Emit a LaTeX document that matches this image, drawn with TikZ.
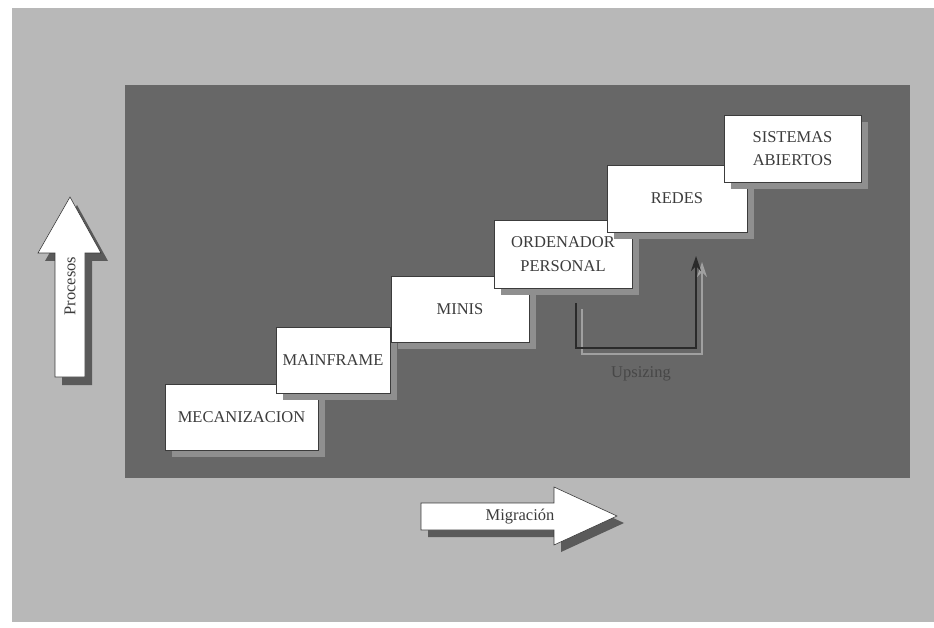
\documentclass[tikz,border=0pt]{standalone}
\usepackage{fontspec}
\setmainfont{Liberation Serif}
\usetikzlibrary{shadows,arrows.meta}

\definecolor{paper}{HTML}{B8B8B8}
\definecolor{panel}{HTML}{676767}
\definecolor{boxshadow}{HTML}{8F8F8F}
\definecolor{inkgray}{HTML}{3C3C3C}
\definecolor{arrowshadow}{HTML}{5A5A5A}
\definecolor{lineshadow}{HTML}{A0A0A0}
\definecolor{linedark}{HTML}{2A2A2A}

\begin{document}
\begin{tikzpicture}[x=1pt,y=-1pt,
  stage/.style={draw=inkgray, line width=0.6pt, fill=white, text=inkgray,
    font=\fontsize{16.5}{23.5}\selectfont, align=center, inner sep=0pt,
    drop shadow={shadow xshift=7pt, shadow yshift=-7pt, fill=boxshadow, opacity=1}},
  bigarrow/.style={draw=inkgray, line width=0.6pt, fill=white},
  bigshadow/.style={fill=arrowshadow},
  arrowtext/.style={text=inkgray, font=\fontsize{16.5}{18}\selectfont, inner sep=0pt},
  steppath/.style={draw=linedark, line width=1.8pt, -{Stealth[length=15pt,width=10pt]}},
  steppathshadow/.style={draw=lineshadow, line width=1.8pt, -{Stealth[length=15pt,width=10pt]}}
]
\useasboundingbox (0,0) rectangle (934,628);

% page and dark panel
\fill[white] (0,0) rectangle (934,628);
\fill[paper] (12,8) rectangle (934,622);
\fill[panel] (125,85) rectangle (910,478);

% staircase of stages
\node[stage, minimum width=153pt, minimum height=66pt] (mec) at (241.5,417) {MECANIZACION};
\node[stage, minimum width=114pt, minimum height=66pt] (main) at (333,360) {MAINFRAME};
\node[stage, minimum width=138pt, minimum height=66pt] (minis) at (460,309) {MINIS};
\node[stage, minimum width=138pt, minimum height=68pt] (pc) at (563,254) {ORDENADOR\\PERSONAL};
\node[stage, minimum width=140pt, minimum height=67pt] (redes) at (677,198.5) {REDES};
\node[stage, minimum width=137pt, minimum height=67pt] (open) at (792.5,148.5) {SISTEMAS\\ABIERTOS};

% upsizing connector, with a light offset copy beneath it
\coordinate (up-from) at (576,303);
\coordinate (up-low1) at (576,348);
\coordinate (up-low2) at (696,348);
\coordinate (up-to) at (696,256);
\begin{scope}[transform canvas={xshift=6pt, yshift=-6pt}]
  \draw[steppathshadow] (up-from) -- (up-low1) -- (up-low2) -- (up-to);
\end{scope}
\draw[steppath] (up-from) -- (up-low1) -- (up-low2) -- (up-to);
\node[text=black!72, font=\fontsize{16.5}{18}\selectfont, inner sep=0pt] (upsizing) at (641,374) {Upsizing};

% vertical arrow: Procesos
\begin{scope}[shift={(7,8)}]
  \fill[bigshadow] (55,377) -- (55,253) -- (38,253) -- (70,197) -- (101,253) -- (85,253) -- (85,377) -- cycle;
\end{scope}
\draw[bigarrow] (55,377) -- (55,253) -- (38,253) -- (70,197) -- (101,253) -- (85,253) -- (85,377) -- cycle;
\node[arrowtext, rotate=90] (procesos) at (70,286) {Procesos};

% horizontal arrow: Migración
\begin{scope}[shift={(7,7)}]
  \fill[bigshadow] (421,503) -- (554,503) -- (554,487) -- (617,516) -- (554,545) -- (554,530) -- (421,530) -- cycle;
\end{scope}
\draw[bigarrow] (421,503) -- (554,503) -- (554,487) -- (617,516) -- (554,545) -- (554,530) -- (421,530) -- cycle;
\node[arrowtext] (migracion) at (520,517) {Migración};
\end{tikzpicture}
\end{document}
